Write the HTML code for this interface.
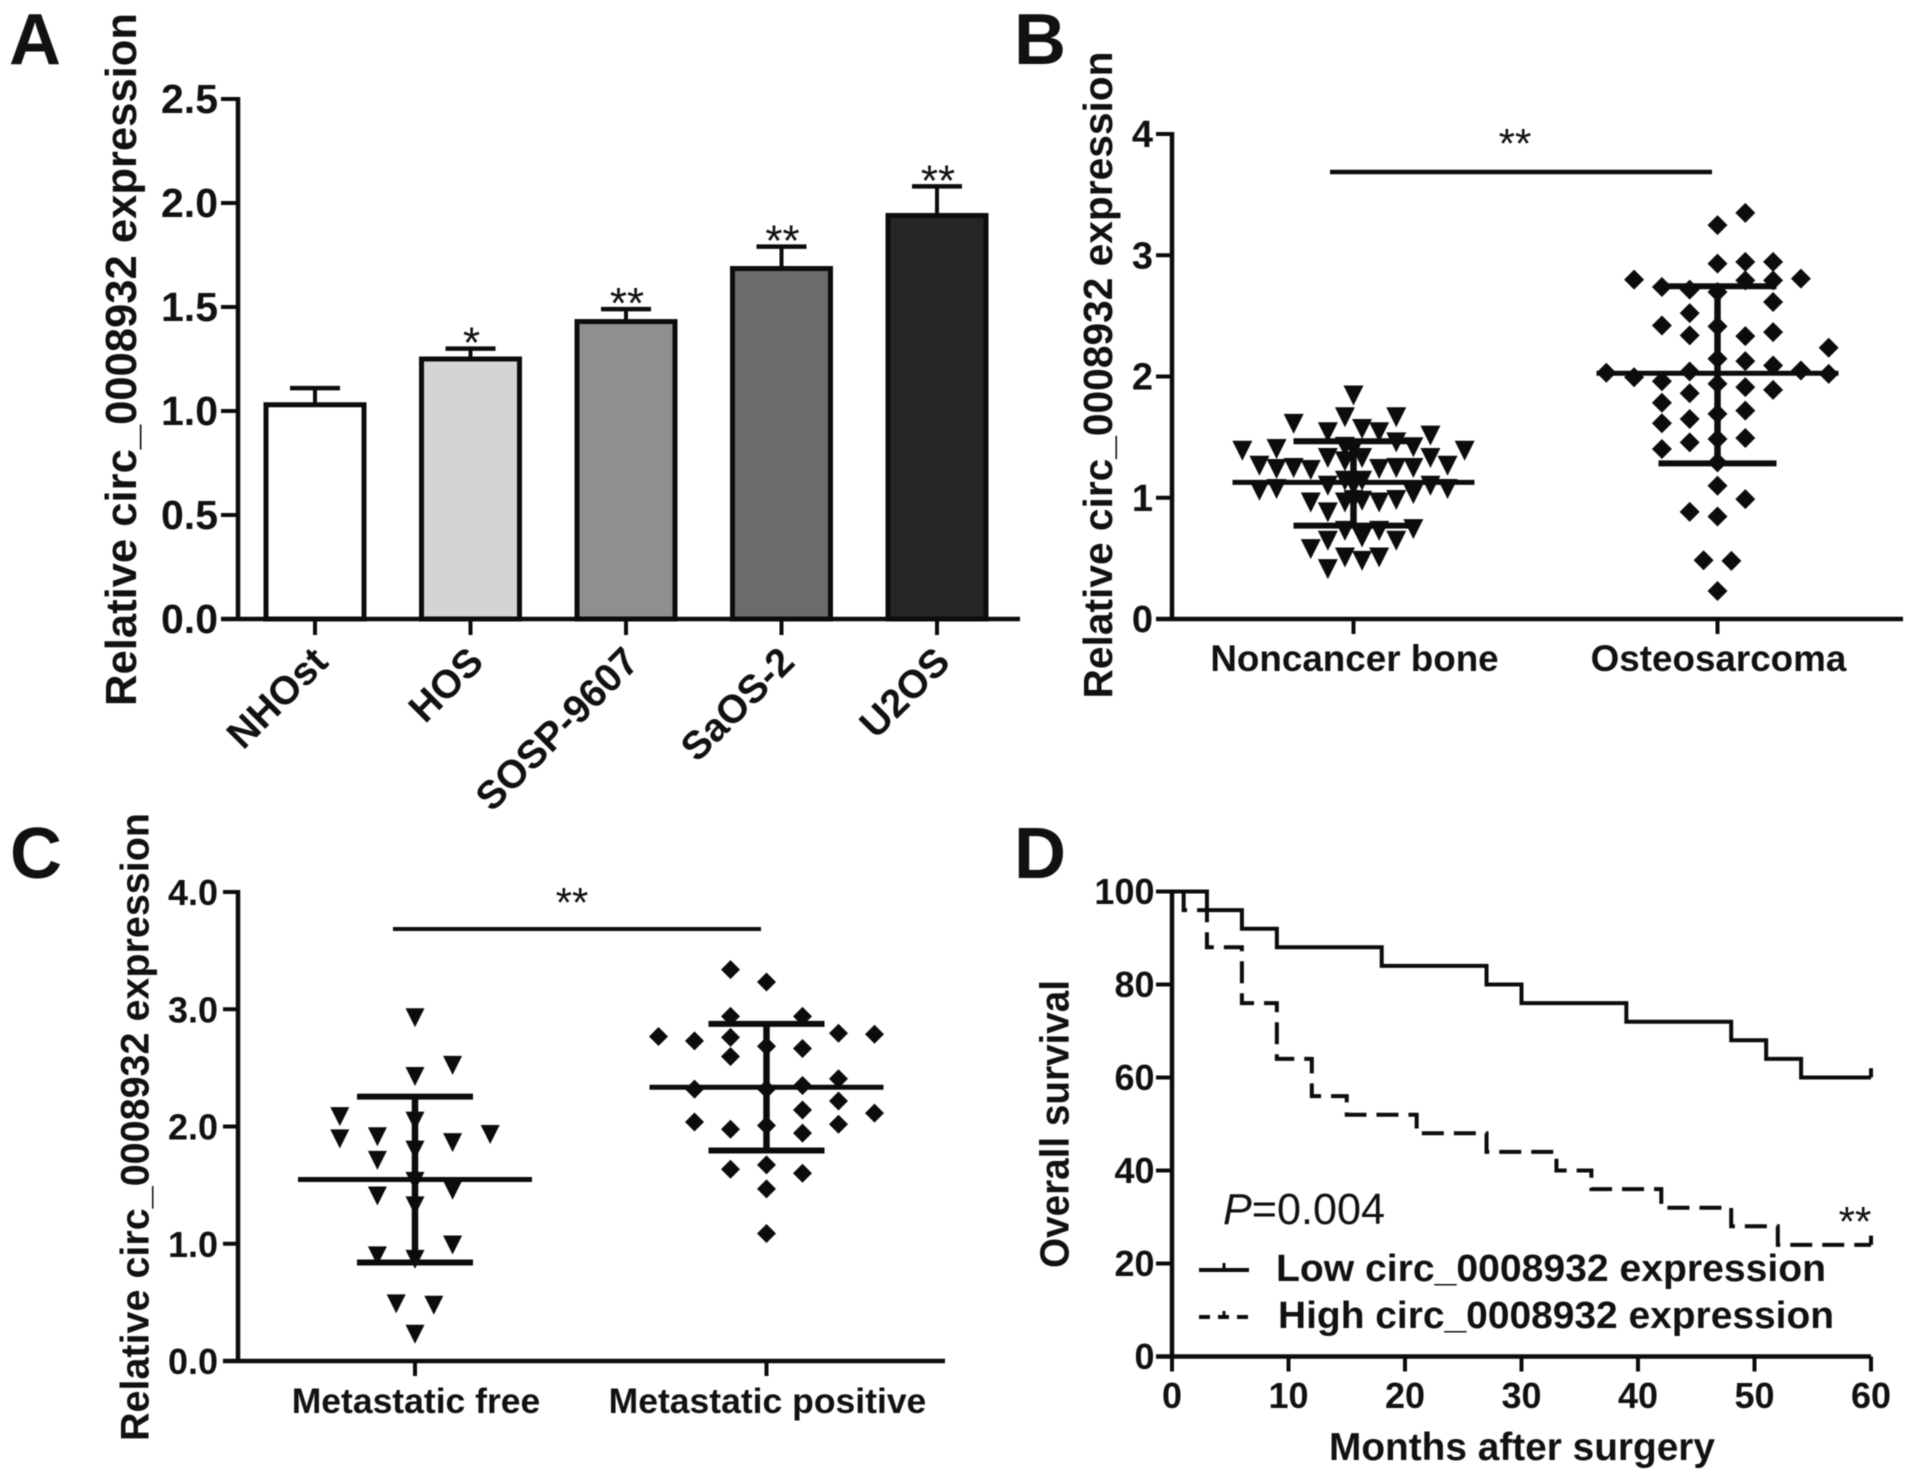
<!DOCTYPE html>
<html lang="en">
<head>
<meta charset="utf-8">
<title>circ_0008932 expression figure</title>
<style>
html,body{margin:0;padding:0;background:#fff;width:1913px;height:1481px;overflow:hidden}
svg{display:block;filter:blur(0.6px)}
text{font-family:"Liberation Sans",Arial,sans-serif;fill:#111}
.b{font-weight:bold}
</style>
</head>
<body>
<svg id="fig" xmlns="http://www.w3.org/2000/svg" width="1913" height="1481" viewBox="0 0 1913 1481">
<rect width="1913" height="1481" fill="#fff"/>
<g id="panelA">
<text class="b" x="9" y="64" font-size="72">A</text>
<text class="b" transform="translate(136,359.5) rotate(-90)" text-anchor="middle" font-size="43.6" textLength="693" lengthAdjust="spacingAndGlyphs">Relative circ_0008932 expression</text>
</g>
<g id="panelB">
<text class="b" x="1014" y="64" font-size="72">B</text>
<text class="b" transform="translate(1112,375) rotate(-90)" text-anchor="middle" font-size="40.7" textLength="647" lengthAdjust="spacingAndGlyphs">Relative circ_0008932 expression</text>
<text x="1515" y="158" text-anchor="middle" font-size="42">**</text>
</g>
<g id="panelC">
<text class="b" x="10" y="878" font-size="72">C</text>
<text class="b" transform="translate(148.5,1127) rotate(-90)" text-anchor="middle" font-size="39.5" textLength="628" lengthAdjust="spacingAndGlyphs">Relative circ_0008932 expression</text>
<text x="572" y="917" text-anchor="middle" font-size="42">**</text>
</g>
<g id="panelD">
<text class="b" x="1014" y="878" font-size="72">D</text>
<text class="b" transform="translate(1068.5,1124) rotate(-90)" text-anchor="middle" font-size="41" textLength="288" lengthAdjust="spacingAndGlyphs">Overall survival</text>
<text class="b" x="1329" y="1460" font-size="38.8" textLength="386" lengthAdjust="spacingAndGlyphs">Months after surgery</text>
<text x="1223" y="1224" font-size="44" textLength="162" lengthAdjust="spacingAndGlyphs"><tspan font-style="italic">P</tspan>=0.004</text>
<text x="1855" y="1236" text-anchor="middle" font-size="42">**</text>
<text class="b" x="1276" y="1281" font-size="38" textLength="550" lengthAdjust="spacingAndGlyphs">Low circ_0008932 expression</text>
<text class="b" x="1278" y="1328" font-size="38" textLength="556" lengthAdjust="spacingAndGlyphs">High circ_0008932 expression</text>
</g>
</svg>
<script>
// ---------- Panel A data ----------
const cellLines = ["NHOst", "HOS", "SOSP-9607", "SaOS-2", "U2OS"];
const cellMeans = [1.03, 1.25, 1.43, 1.685, 1.94];
const cellUpper = [1.11, 1.30, 1.49, 1.79, 2.08];
const cellStars = ["", "*", "**", "**", "**"];
const cellFills = ["#ffffff", "#d4d4d4", "#8f8f8f", "#6b6b6b", "#262626"];
const aTicks = ["0.0", "0.5", "1.0", "1.5", "2.0", "2.5"];

// ---------- Panel B data ----------
const bCategories = ["Noncancer bone", "Osteosarcoma"];
const bTicks = ["0", "1", "2", "3", "4"];
const noncancerColumn = [0,-0.5,2.5,-3.5,-1.5,0.5,1.5,4.5,-6.5,-4.5,2.5,3.5,6.5,-0.5,0,-1.5,0.5,4.5,-5.5,-4.5,-3.5,-2.5,1.5,2.5,3.5,5.5,-0.5,-1.5,-0.5,0.5,0,3.5,4.5,5.5,-5.5,-4.5,-2.5,-1.5,-0.5,0.5,1.5,2.5,0,-2.5,-1.5,-0.5,0.5,1.5,2.5,3.5,-0.5,0.5,1.5,-1.5];
const noncancerValues = [1.843,1.664,1.664,1.609,1.540,1.567,1.540,1.512,1.388,1.402,1.457,1.416,1.388,1.42,1.40,1.328,1.328,1.328,1.264,1.237,1.245,1.229,1.237,1.245,1.245,1.264,1.30,1.099,1.14,1.14,1.10,1.03,1.099,1.072,1.058,1.072,0.961,0.879,0.961,0.975,0.961,0.981,0.98,0.576,0.645,0.727,0.672,0.727,0.645,0.741,0.507,0.479,0.507,0.411];
const noncancerStats = [0.77, 1.127, 1.466];
const osteoColumn = [1,0,0,1,2,-3,3,-2,-1,0,1,2,2,-1,-2,-1,0,1,2,4,0,1,2,3,4,-4,-3,-2,-1,0,1,2,-1,-2,0,1,-2,-1,-1,0,1,-2,0,0,1,-1,0,-0.5,0.5,0];
const osteoValues = [3.35,3.248,2.931,2.945,2.945,2.799,2.807,2.738,2.716,2.697,2.793,2.793,2.614,2.523,2.421,2.339,2.413,2.333,2.366,2.237,2.146,2.127,2.091,2.05,2.022,2.031,1.994,1.961,2.041,1.94,1.912,1.89,1.862,1.783,1.692,1.719,1.614,1.65,1.457,1.485,1.493,1.402,1.292,1.099,0.989,0.884,0.845,0.485,0.479,0.231];
const osteoStats = [1.284, 2.027, 2.744];

// ---------- Panel C data ----------
const cCategories = ["Metastatic free", "Metastatic positive"];
const cTicks = ["0.0", "1.0", "2.0", "3.0", "4.0"];
const freeColumn = [0,1,0,-2,0,2,-2,-1,1,0,-1,0,1,-1,0,1,-1,0,-0.5,0.5,0];
const freeValues = [2.928,2.521,2.426,2.084,2.046,1.932,1.894,1.913,1.863,1.798,1.711,1.532,1.456,1.407,1.323,0.989,0.897,0.867,0.487,0.475,0.228];
const freeStats = [0.84, 1.548, 2.255];
const positiveColumn = [-1,0,-1,1,2,3,-3,-2,-1,0,1,-1,2,1,0,-2,2,1,3,-2,2,0,-1,1,0,-1,1,0,0];
const positiveValues = [3.338,3.232,2.939,2.939,2.795,2.787,2.768,2.73,2.76,2.684,2.665,2.597,2.407,2.35,2.319,2.319,2.217,2.141,2.114,2.038,2.019,2.008,1.977,1.943,1.673,1.635,1.601,1.468,1.087];
const positiveStats = [1.795, 2.335, 2.875];

// ---------- Panel D data ----------
const xMonths = ["0", "10", "20", "30", "40", "50", "60"];
const survivalTicks = ["0", "20", "40", "60", "80", "100"];
const lowMonths = [0,3,6,9,18,27,30,39,48,51,54,60];
const lowSurvival = [100,96,92,88,84,80,76,72,68,64,60,60];
const highMonths = [1,3,6,9,12,15,21,27,33,36,42,48,52,60];
const highSurvival = [96,88,76,64,56,52,48,44,40,36,32,28,24,24];

// ---------- Drawing helpers ----------
const NS = "http://www.w3.org/2000/svg";
const INK = "#0c0c0c";
function make(tag, attrs, parent) {
  const el = document.createElementNS(NS, tag);
  for (const k in attrs) el.setAttribute(k, attrs[k]);
  parent.appendChild(el);
  return el;
}
function ln(parent, x1, y1, x2, y2, w) {
  return make("line", {x1, y1, x2, y2, stroke: INK, "stroke-width": w}, parent);
}
function txt(parent, s, x, y, size, anchor, bold) {
  const el = make("text", {x, y, "font-size": size, "text-anchor": anchor}, parent);
  if (bold) el.setAttribute("class", "b");
  el.textContent = s;
  return el;
}
function axes(parent, tag, x0, xEnd, yBase, yTop, tickLeft) {
  const a = ln(parent, x0, yTop - 2, x0, yBase + 2, 4.5);
  
  
  const b = ln(parent, tickLeft, yBase, xEnd, yBase, 4.5);
  
  
}
function yTicks(parent, tag, labels, scale, x0, len, labelX, size, nudge) {
  labels.forEach(function (t) {
    const y = scale(parseFloat(t));
    const tk = ln(parent, x0 - len, y, x0, y, 4);
    
    
    const lb = txt(parent, t, labelX, y + nudge, size, "end", true);
    
    
  });
}
function xTick(parent, tag, x, yBase, len) {
  const tk = ln(parent, x, yBase, x, yBase + len, 4);
  
  
}
function swarm(parent, name, shape, cx, spacing, yScale, columns, values, half) {
  values.forEach(function (v, i) {
    const x = cx + columns[i] * spacing;
    const y = yScale(v);
    const d = shape === "tri"
      ? "M" + (x - half) + " " + (y - half) + "L" + (x + half) + " " + (y - half) + "L" + x + " " + (y + half) + "Z"
      : "M" + (x - half) + " " + y + "L" + x + " " + (y - half) + "L" + (x + half) + " " + y + "L" + x + " " + (y + half) + "Z";
    const m = make("path", {d: d, fill: INK}, parent);
    
    
  });
}
function statBars(parent, name, cx, yScale, stats, meanHalf, sdHalf) {
  const lo = yScale(stats[0]), mid = yScale(stats[1]), hi = yScale(stats[2]);
  const s = ln(parent, cx, hi, cx, lo, 6.5);
  
  
  const m = ln(parent, cx - meanHalf, mid, cx + meanHalf, mid, 5);
  
  
  const u = ln(parent, cx - sdHalf, hi, cx + sdHalf, hi, 6);
  
  
  const l = ln(parent, cx - sdHalf, lo, cx + sdHalf, lo, 6);
  
  
}

// ---------- Panel A ----------
(function () {
  const g = document.getElementById("panelA");
  const x0 = 238, yBase = 619, yTop = 99, xEnd = 1020;
  const y = function (v) { return yBase - v * (yBase - yTop) / 2.5; };
  const xc = function (i) { return 315 + i * 155.5; };
  cellLines.forEach(function (name, i) {
    const cx = xc(i);
    const stem = ln(g, cx, y(cellUpper[i]), cx, y(cellMeans[i]), 4);
    
    
    const cap = ln(g, cx - 25, y(cellUpper[i]), cx + 25, y(cellUpper[i]), 4.5);
    
    
    const bar = make("rect", {x: cx - 49, y: y(cellMeans[i]), width: 98, height: yBase - y(cellMeans[i]), fill: cellFills[i], stroke: INK, "stroke-width": 5}, g);
    
    
    xTick(g, 'a', cx, yBase, 16);
    const lb = txt(g, name, cx + 15, 664, 39.5, "end", true);
    lb.setAttribute("transform", "rotate(-45 " + (cx + 15) + " 664)");
    
    
    if (cellStars[i]) {
      const st = txt(g, cellStars[i], cx + 1, y(cellUpper[i]) + 9, 44, "middle", false);
      
      
    }
  });
  axes(g, 'a', x0, xEnd, yBase, yTop, x0 - 17);
  yTicks(g, 'a', aTicks, y, x0, 17, 218, 41, 14);
})();

// ---------- Panel B ----------
(function () {
  const g = document.getElementById("panelB");
  const x0 = 1172, yBase = 619, yTop = 134, xEnd = 1903;
  const y = function (v) { return yBase - v * (yBase - yTop) / 4; };
  const cx = [1353.5, 1717.5];
  swarm(g, 'noncancer', 'tri', cx[0], 17.1, y, noncancerColumn, noncancerValues, 10);
  statBars(g, 'noncancer', cx[0], y, noncancerStats, 121, 60);
  swarm(g, 'osteosarcoma', 'dia', cx[1], 27.8, y, osteoColumn, osteoValues, 10);
  statBars(g, 'osteosarcoma', cx[1], y, osteoStats, 121, 59);
  const sig = ln(g, 1330, 172, 1712, 172, 4.5);
  
  
  bCategories.forEach(function (name, i) {
    xTick(g, 'b', cx[i], yBase, 15);
    const lb = txt(g, name, cx[i] + 1, 671, 36.8, "middle", true);
    
    
  });
  axes(g, 'b', x0, xEnd, yBase, yTop, x0 - 16);
  yTicks(g, 'b', bTicks, y, x0, 16, 1153, 38, 13);
})();

// ---------- Panel C ----------
(function () {
  const g = document.getElementById("panelC");
  const x0 = 238, yBase = 1361, yTop = 892, xEnd = 945;
  const y = function (v) { return yBase - v * (yBase - yTop) / 4; };
  const cx = [415, 766.5];
  swarm(g, 'metastatic-free', 'tri', cx[0], 37.6, y, freeColumn, freeValues, 9.5);
  statBars(g, 'metastatic-free', cx[0], y, freeStats, 117, 58);
  swarm(g, 'metastatic-positive', 'dia', cx[1], 36, y, positiveColumn, positiveValues, 9.5);
  statBars(g, 'metastatic-positive', cx[1], y, positiveStats, 117, 58);
  const sig = ln(g, 393, 929, 761, 929, 4);
  
  
  cCategories.forEach(function (name, i) {
    xTick(g, 'c', cx[i], yBase, 15);
    const lb = txt(g, name, cx[i] + 1, 1413, 35.5, "middle", true);
    
    
  });
  axes(g, 'c', x0, xEnd, yBase, yTop, x0 - 15);
  yTicks(g, 'c', cTicks, y, x0, 15, 218, 36, 13);
})();

// ---------- Panel D ----------
(function () {
  const g = document.getElementById("panelD");
  const x0 = 1172, xEnd = 1871, yBase = 1356.5, yTop = 891.5;
  const x = function (m) { return x0 + m * (xEnd - x0) / 60; };
  const y = function (s) { return yBase - s * (yBase - yTop) / 100; };
  function stepPath(ms, vs, startVal) {
    let d = "M" + x(ms[0]) + " " + y(startVal);
    ms.forEach(function (m, i) {
      d += "L" + x(m) + " " + y(i === 0 ? vs[0] : vs[i - 1]);
      d += "L" + x(m) + " " + y(vs[i]);
    });
    return d;
  }
  const low = make("path", {d: stepPath(lowMonths, lowSurvival, 100), fill: "none", stroke: INK, "stroke-width": 4}, g);
  
  
  const high = make("path", {d: stepPath(highMonths, highSurvival, 100), fill: "none", stroke: INK, "stroke-width": 4, "stroke-dasharray": "22 10"}, g);
  
  
  const c1 = ln(g, x(60), y(lowSurvival[lowSurvival.length - 1]), x(60), y(lowSurvival[lowSurvival.length - 1] + 2), 4);
  
  
  const c2 = ln(g, x(60), y(highSurvival[highSurvival.length - 1]), x(60), y(highSurvival[highSurvival.length - 1] + 2), 4);
  
  
  xMonths.forEach(function (t) {
    const px = x(parseFloat(t));
    xTick(g, 'd', px, yBase, 15);
    const lb = txt(g, t, px, 1408, 36, "middle", true);
    
    
  });
  axes(g, 'd', x0, xEnd, yBase, yTop, x0 - 16);
  yTicks(g, 'd', survivalTicks, y, x0, 16, 1154.5, 36, 12.5);
  const k1 = ln(g, 1199, 1270, 1249, 1270, 4);
  
  
  const k1t = ln(g, 1224, 1270, 1224, 1263, 3);
  
  
  const k2 = ln(g, 1199, 1317, 1249, 1317, 4);
  k2.setAttribute("stroke-dasharray", "11 8");
  
  
  const k2t = ln(g, 1224, 1317, 1224, 1311, 3);
  
  
})();
</script>
</body>
</html>
